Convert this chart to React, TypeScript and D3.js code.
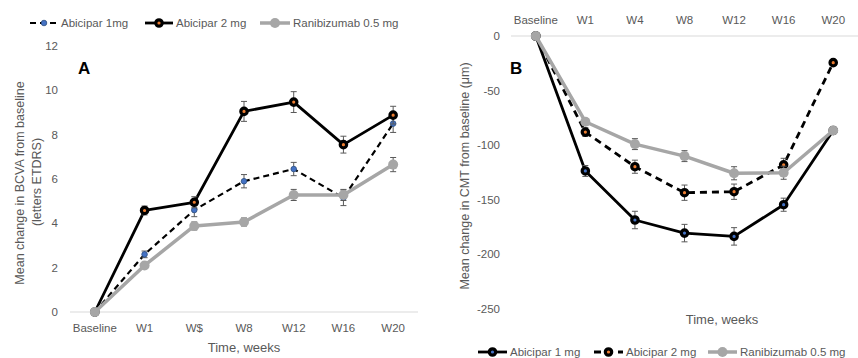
import React from "react";
import * as d3 from "d3";

const catsA = ["Baseline", "W1", "W$", "W8", "W12", "W16", "W20"];
const catsB = ["Baseline", "W1", "W4", "W8", "W12", "W16", "W20"];

const a1mgA = [0, 2.6, 4.6, 5.9, 6.45, 5.15, 8.5];
const a1mgAErr = [0, 0.15, 0.3, 0.3, 0.3, 0.35, 0.4];
const a2mgA = [0, 4.58, 4.95, 9.05, 9.47, 7.55, 8.88];
const a2mgAErr = [0, 0.2, 0.25, 0.45, 0.47, 0.38, 0.4];
const raniA = [0, 2.1, 3.88, 4.06, 5.28, 5.28, 6.65];
const raniAErr = [0, 0.12, 0.18, 0.18, 0.25, 0.25, 0.32];

const a1mgB = [0, -123.6, -168.5, -180.5, -183.5, -154.5, -86.5];
const a1mgBErr = [0, 5, 8, 8, 8, 6, 3];
const a2mgB = [0, -88, -119.7, -143.5, -142.6, -118, -24.4];
const a2mgBErr = [0, 4, 6, 7, 7, 6, 2];
const raniB = [0, -78.5, -99, -110, -125.7, -125.2, -86.5];
const raniBErr = [0, 3, 5, 5, 6, 6, 3];

const ticksA = [0, 2, 4, 6, 8, 10, 12];
const ticksB = [0, -50, -100, -150, -200, -250];

const FONT = "'Liberation Sans', Arial, sans-serif";
const TXT = "#595959";
const GRAY = "#a6a6a6";
const ORANGE = "#ed7d31";
const BLUE = "#4472c4";

type SeriesStyle = {
  vals: number[];
  err: number[];
  color: string;
  width: number;
  dash?: string;
  marker: "blueDot" | "blackOrange" | "blackBlue" | "gray";
};

function Marker({ x, y, kind }: { x: number; y: number; kind: SeriesStyle["marker"] }) {
  if (kind === "blueDot")
    return <circle cx={x} cy={y} r={2.8} fill={BLUE} stroke="#2f4f7f" strokeWidth={0.8} />;
  if (kind === "blackOrange")
    return <circle cx={x} cy={y} r={3.2} fill={ORANGE} stroke="#000" strokeWidth={3.2} />;
  if (kind === "blackBlue")
    return <circle cx={x} cy={y} r={3.2} fill={BLUE} stroke="#000" strokeWidth={3.2} />;
  return <circle cx={x} cy={y} r={5} fill={GRAY} />;
}

function Series({
  s,
  cats,
  x,
  y,
}: {
  s: SeriesStyle;
  cats: string[];
  x: d3.ScaleBand<string>;
  y: d3.ScaleLinear<number, number>;
}) {
  const cx = (i: number) => (x(cats[i]) as number) + x.bandwidth() / 2;
  const line = d3
    .line<number>()
    .x((_, i) => cx(i))
    .y((v) => y(v));
  return (
    <g>
      <path d={line(s.vals) || ""} fill="none" stroke={s.color} strokeWidth={s.width} strokeDasharray={s.dash} strokeLinejoin="round" />
      {s.vals.map((v, i) =>
        s.err[i] > 0 ? (
          <g key={"e" + i} stroke="#595959" strokeWidth={1}>
            <line x1={cx(i)} x2={cx(i)} y1={y(v - s.err[i])} y2={y(v + s.err[i])} />
            <line x1={cx(i) - 3} x2={cx(i) + 3} y1={y(v - s.err[i])} y2={y(v - s.err[i])} />
            <line x1={cx(i) - 3} x2={cx(i) + 3} y1={y(v + s.err[i])} y2={y(v + s.err[i])} />
          </g>
        ) : null
      )}
      {s.vals.map((v, i) => (
        <Marker key={"m" + i} x={cx(i)} y={y(v)} kind={s.marker} />
      ))}
    </g>
  );
}

function LegendItem({ x, y, w, s, label }: { x: number; y: number; w: number; s: SeriesStyle; label: string }) {
  return (
    <g>
      <line x1={x} x2={x + w} y1={y} y2={y} stroke={s.color} strokeWidth={s.width} strokeDasharray={s.dash} />
      <Marker x={x + w / 2} y={y} kind={s.marker} />
      <text x={x + w + 3} y={y + 4} fontSize={11.5} fill={TXT} fontFamily={FONT}>
        {label}
      </text>
    </g>
  );
}

export default function App() {
  // Panel A
  const xA = d3.scaleBand<string>().domain(catsA).range([70, 418]);
  const yA = d3.scaleLinear().domain([0, 12]).range([312, 46]);
  const sA1: SeriesStyle = { vals: a1mgA, err: a1mgAErr, color: "#000", width: 2.2, dash: "6,4", marker: "blueDot" };
  const sA2: SeriesStyle = { vals: a2mgA, err: a2mgAErr, color: "#000", width: 2.8, marker: "blackOrange" };
  const sAR: SeriesStyle = { vals: raniA, err: raniAErr, color: GRAY, width: 3.5, marker: "gray" };

  // Panel B
  const xB = d3.scaleBand<string>().domain(catsB).range([511, 858]);
  const yB = d3.scaleLinear().domain([-250, 0]).range([309, 36]);
  const sB1: SeriesStyle = { vals: a1mgB, err: a1mgBErr, color: "#000", width: 2.8, marker: "blackBlue" };
  const sB2: SeriesStyle = { vals: a2mgB, err: a2mgBErr, color: "#000", width: 2.8, dash: "7,5", marker: "blackOrange" };
  const sBR: SeriesStyle = { vals: raniB, err: raniBErr, color: GRAY, width: 3.5, marker: "gray" };

  return (
    <svg width={858} height={358} style={{ position: "absolute", left: 0, top: 0, background: "#fff" }}>
      <rect width={858} height={358} fill="#fff" />
      {/* Panel A */}
      <g fontFamily={FONT}>
        {ticksA.map((t) => (
          <text key={t} x={58} y={yA(t) + 4} textAnchor="end" fontSize={11.5} fill={TXT}>
            {t}
          </text>
        ))}
        <line x1={70} x2={418} y1={yA(0)} y2={yA(0)} stroke="#d9d9d9" strokeWidth={1} />
        {catsA.map((c) => (
          <text key={c} x={(xA(c) as number) + xA.bandwidth() / 2} y={332} textAnchor="middle" fontSize={11.5} fill={TXT}>
            {c}
          </text>
        ))}
        <text x={244} y={352} textAnchor="middle" fontSize={13} fill={TXT}>
          Time, weeks
        </text>
        <text transform="translate(24,183) rotate(-90)" textAnchor="middle" fontSize={12.5} fill={TXT}>
          Mean change in BCVA from baseline
        </text>
        <text transform="translate(41,182) rotate(-90)" textAnchor="middle" fontSize={12.5} fill={TXT}>
          (letters ETDRS)
        </text>
        <text x={78} y={74} fontSize={17} fontWeight="bold" fill="#000">
          A
        </text>
        <Series s={sA1} cats={catsA} x={xA} y={yA} />
        <Series s={sA2} cats={catsA} x={xA} y={yA} />
        <Series s={sAR} cats={catsA} x={xA} y={yA} />
        <LegendItem x={30} y={23} w={28} s={sA1} label="Abicipar 1mg" />
        <LegendItem x={145} y={23} w={28} s={sA2} label="Abicipar 2 mg" />
        <LegendItem x={260} y={23} w={30} s={sAR} label="Ranibizumab 0.5 mg" />
      </g>
      {/* Panel B */}
      <g fontFamily={FONT}>
        {ticksB.map((t) => (
          <text key={t} x={500} y={yB(t) + 4} textAnchor="end" fontSize={11.5} fill={TXT}>
            {t}
          </text>
        ))}
        <line x1={511} x2={858} y1={yB(0)} y2={yB(0)} stroke="#d9d9d9" strokeWidth={1} />
        {catsB.map((c) => (
          <text key={c} x={(xB(c) as number) + xB.bandwidth() / 2} y={24} textAnchor="middle" fontSize={11.5} fill={TXT}>
            {c}
          </text>
        ))}
        <text x={722} y={324} textAnchor="middle" fontSize={13} fill={TXT}>
          Time, weeks
        </text>
        <text transform="translate(469,176) rotate(-90)" textAnchor="middle" fontSize={12.5} fill={TXT}>
          Mean change in CMT from baseline (μm)
        </text>
        <text x={510} y={74} fontSize={17} fontWeight="bold" fill="#000">
          B
        </text>
        <Series s={sB1} cats={catsB} x={xB} y={yB} />
        <Series s={sB2} cats={catsB} x={xB} y={yB} />
        <Series s={sBR} cats={catsB} x={xB} y={yB} />
        <LegendItem x={478} y={352} w={29} s={sB1} label="Abicipar 1 mg" />
        <LegendItem x={594} y={352} w={29} s={sB2} label="Abicipar 2 mg" />
        <LegendItem x={708} y={352} w={29} s={sBR} label="Ranibizumab 0.5 mg" />
      </g>
    </svg>
  );
}
